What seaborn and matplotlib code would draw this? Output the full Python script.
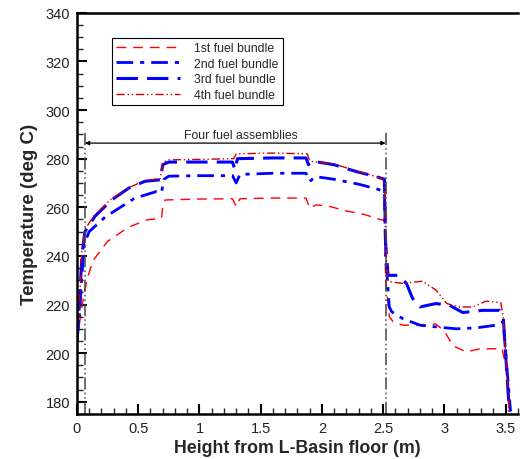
import matplotlib
matplotlib.use("Agg")
import matplotlib.pyplot as plt
import seaborn as sns
from matplotlib.ticker import MultipleLocator

# ---- data ----
x1 = [0.0, 0.02, 0.05, 0.08, 0.13, 0.25, 0.42, 0.57, 0.69, 0.70, 0.72, 1.0, 1.27, 1.30, 1.33, 1.6, 1.87, 1.90,
      1.95, 2.05, 2.2, 2.35, 2.44, 2.51, 2.52, 2.55, 2.58, 2.66, 2.82, 2.93, 3.0, 3.07, 3.18, 3.29, 3.39, 3.47, 3.50, 3.53]
t1 = [205, 212, 222, 230, 238, 246, 251.8, 254.8, 255.5, 260, 263, 263.4, 263.5, 260.3, 263.5, 263.8, 263.8, 259.6,
      261, 260.5, 258.5, 257, 255.5, 254.5, 230, 215, 213, 211.5, 211.5, 212, 209, 203, 200.5, 201.8, 201.8, 202, 195, 176]

x2 = [0.0, 0.02, 0.04, 0.06, 0.10, 0.23, 0.47, 0.65, 0.69, 0.71, 0.75, 1.0, 1.27, 1.30, 1.33, 1.6, 1.87, 1.90,
      1.95, 2.1, 2.3, 2.45, 2.51, 2.52, 2.55, 2.57, 2.66, 2.8, 2.93, 3.1, 3.26, 3.42, 3.48, 3.50, 3.54]
t2 = [205, 215, 232, 245, 250, 256, 263.7, 266.5, 266, 271.5, 272.8, 273, 273, 270, 273.5, 274, 274, 270.7,
      272.6, 271.5, 269.5, 267.5, 266.5, 240, 219, 217, 214.2, 211.5, 210.8, 210, 210.4, 211.5, 213, 200, 176]

x3 = [0.0, 0.02, 0.04, 0.065, 0.147, 0.283, 0.42, 0.555, 0.68, 0.70, 0.75, 1.0, 1.27, 1.29, 1.31, 1.6, 1.87, 1.89,
      1.92, 2.1, 2.28, 2.45, 2.51, 2.52, 2.54, 2.62, 2.69, 2.74, 2.8, 2.93, 3.04, 3.15, 3.31, 3.45, 3.48, 3.53]
t3 = [205, 220, 240, 250, 256.3, 263, 267.8, 270.7, 271.3, 277.5, 278.6, 278.6, 278.6, 275.4, 280, 280.3, 280.3, 277.5,
      279, 277.5, 274.7, 272.5, 271.5, 245, 232, 232, 228.7, 222.5, 219, 220.4, 219.7, 216.7, 217.6, 217.6, 215, 176]

x4 = [0.0, 0.02, 0.04, 0.065, 0.147, 0.283, 0.42, 0.555, 0.68, 0.70, 0.75, 1.0, 1.28, 1.30, 1.6, 1.88, 1.90,
      2.1, 2.28, 2.45, 2.51, 2.52, 2.54, 2.66, 2.82, 2.93, 3.02, 3.12, 3.23, 3.34, 3.46, 3.48, 3.53]
t4 = [205, 220, 242, 251, 257, 263.5, 268, 271, 271.8, 278.5, 279.5, 279.7, 280, 282, 282.3, 282, 279,
      277.8, 275, 272.5, 271, 245, 229.5, 228.7, 229.6, 226, 220.4, 219, 219, 221.4, 220.8, 215, 176]

labels = ["1st fuel bundle", "2nd fuel bundle", "3rd fuel bundle", "4th fuel bundle"]
annot_text = "Four fuel assemblies"
assembly_x = [0.065, 2.52]
xticks = [0, 0.5, 1, 1.5, 2, 2.5, 3, 3.5]
xticklabels = ["0", "0.5", "1", "1.5", "2", "2.5", "3", "3.5"]
yticks = [180, 200, 220, 240, 260, 280, 300, 320, 340]

# ---- style ----
sns.set_style("white")
plt.rcParams['font.family'] = ['Liberation Sans', 'DejaVu Sans']

fig = plt.figure(figsize=(5.2, 4.6), dpi=100)
ax = fig.add_axes([0.148, 0.098, 0.848, 0.872])

styles = [
    dict(color="#ff0000", lw=1.0, ls=(0, (7, 5))),
    dict(color="#0000ff", lw=2.0, ls=(0, (6, 2.5, 1.5, 2.5))),
    dict(color="#0000ff", lw=2.2, ls=(0, (7, 3))),
    dict(color="#d00000", lw=1.0, ls=(0, (6, 2, 1, 2, 1, 2))),
]
for xs, ts, lab, st in zip([x1, x2, x3, x4], [t1, t2, t3, t4], labels, styles):
    sns.lineplot(x=xs, y=ts, ax=ax, sort=False, estimator=None, label=lab,
                 color=st["color"], linewidth=st["lw"], linestyle=st["ls"])

# assembly markers
for xa in assembly_x:
    ax.plot([xa, xa], [175, 291.5], color="#444444", lw=1.1, ls=(0, (8, 2, 1, 2, 1, 2)))
ax.annotate("", xy=(assembly_x[0], 286.4), xytext=(assembly_x[1], 286.4),
            arrowprops=dict(arrowstyle="<|-|>", color="black", lw=0.9, mutation_scale=6,
                            shrinkA=0, shrinkB=0))
ax.text(1.34, 289.8, annot_text, ha="center", va="center", fontsize=8.8)

ax.set_xlim(0, 3.6)
ax.set_ylim(175, 340)
ax.set_xticks(xticks)
ax.set_xticklabels(xticklabels)
ax.set_yticks(yticks)
ax.xaxis.set_minor_locator(MultipleLocator(0.1))
ax.yaxis.set_minor_locator(MultipleLocator(5))
ax.tick_params(which="major", direction="in", length=7, width=1.5, labelsize=10.5,
               colors="black", labelcolor="#222222", pad=5)
ax.tick_params(which="minor", direction="in", length=4, width=1.0)
ax.tick_params(axis="both", which="both", bottom=True, left=True, top=False, right=False)

for s in ["left", "bottom", "top"]:
    ax.spines[s].set_color("black")
    ax.spines[s].set_linewidth(1.8)
ax.spines["right"].set_visible(False)

ax.set_xlabel("Height from L-Basin floor (m)", fontsize=12.8, fontweight="bold", labelpad=3)
ax.set_ylabel("Temperature (deg C)", fontsize=13.5, fontweight="bold", labelpad=5)

leg = ax.legend(loc="upper left", bbox_to_anchor=(0.079, 0.938), fontsize=8.8, frameon=True,
                fancybox=False, edgecolor="black", handlelength=5.2, borderpad=0.35,
                labelspacing=0.3, handletextpad=1.2, framealpha=1, borderaxespad=0)
leg.get_frame().set_linewidth(0.8)

fig.savefig("out.png", dpi=100)
